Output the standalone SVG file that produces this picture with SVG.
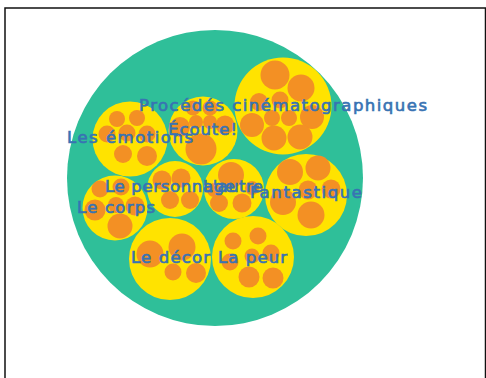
<svg xmlns="http://www.w3.org/2000/svg" width="486" height="378" viewBox="0 0 486 378">
<style>
.root{fill:#2fbf99}
.grp{fill:#ffe300}
.leaf{fill:#f39024}
.lbl{font-family:"DejaVu Sans","Liberation Sans",sans-serif;font-size:16.5px;fill:#3873b3;text-anchor:middle;stroke:#3873b3;stroke-width:0.65}
</style>
<rect x="0" y="0" width="486" height="378" fill="#ffffff"/>
<rect x="5" y="8" width="480.5" height="380" fill="none" stroke="#111" stroke-width="1.5"/>
<g id="connectors"></g>
<g id="root"><circle class="root" cx="215" cy="178" r="148"/></g>

<g id="node-emotions">
<circle class="grp" cx="130" cy="139" r="37.5"/>
<circle class="leaf" cx="117" cy="119" r="8"/>
<circle class="leaf" cx="137" cy="118" r="8"/>
<circle class="leaf" cx="107" cy="134" r="8.5"/>
<circle class="leaf" cx="127" cy="133" r="8.5"/>
<circle class="leaf" cx="147" cy="134" r="8.5"/>
<circle class="leaf" cx="123" cy="154" r="9"/>
<circle class="leaf" cx="147" cy="156" r="10"/>
</g>

<g id="node-ecoute">
<circle class="grp" cx="203" cy="131" r="34.5"/>
<circle class="leaf" cx="193" cy="108" r="7.5"/>
<circle class="leaf" cx="210" cy="108" r="7.5"/>
<circle class="leaf" cx="180" cy="127" r="10"/>
<circle class="leaf" cx="196" cy="122" r="7"/>
<circle class="leaf" cx="210" cy="122" r="7"/>
<circle class="leaf" cx="225" cy="125" r="9.5"/>
<circle class="leaf" cx="201" cy="149" r="15.5"/>
</g>

<g id="node-procedes">
<circle class="grp" cx="283" cy="106" r="48.5"/>
<circle class="leaf" cx="275" cy="75" r="14.5"/>
<circle class="leaf" cx="301" cy="88" r="13.5"/>
<circle class="leaf" cx="259" cy="102" r="9"/>
<circle class="leaf" cx="280" cy="100" r="8.5"/>
<circle class="leaf" cx="252" cy="125" r="12"/>
<circle class="leaf" cx="272" cy="118" r="8"/>
<circle class="leaf" cx="289" cy="118" r="8"/>
<circle class="leaf" cx="312" cy="117" r="12"/>
<circle class="leaf" cx="274" cy="138" r="12.5"/>
<circle class="leaf" cx="300" cy="137" r="12.5"/>
</g>

<g id="node-corps">
<circle class="grp" cx="115" cy="208" r="32.5"/>
<circle class="leaf" cx="100" cy="189" r="8.5"/>
<circle class="leaf" cx="121" cy="187" r="8.5"/>
<circle class="leaf" cx="95" cy="210" r="10.5"/>
<circle class="leaf" cx="116" cy="205" r="8"/>
<circle class="leaf" cx="135" cy="206" r="9.5"/>
<circle class="leaf" cx="120" cy="226" r="12.5"/>
</g>

<g id="node-personnage">
<circle class="grp" cx="175" cy="189" r="28"/>
<circle class="leaf" cx="162" cy="180" r="9.5"/>
<circle class="leaf" cx="181" cy="178" r="9.5"/>
<circle class="leaf" cx="170" cy="200" r="9"/>
<circle class="leaf" cx="190" cy="200" r="9"/>
</g>

<g id="node-autre">
<circle class="grp" cx="234" cy="189" r="30"/>
<circle class="leaf" cx="231" cy="175" r="13"/>
<circle class="leaf" cx="214" cy="190" r="7"/>
<circle class="leaf" cx="252" cy="188" r="7"/>
<circle class="leaf" cx="219" cy="203" r="9"/>
<circle class="leaf" cx="242" cy="203" r="9.5"/>
</g>

<g id="node-fantastique">
<circle class="grp" cx="306" cy="195" r="41"/>
<circle class="leaf" cx="290" cy="172" r="13"/>
<circle class="leaf" cx="318" cy="168" r="12.5"/>
<circle class="leaf" cx="283" cy="202" r="13"/>
<circle class="leaf" cx="308" cy="190" r="9.5"/>
<circle class="leaf" cx="331" cy="189" r="9.5"/>
<circle class="leaf" cx="311" cy="215" r="13.5"/>
</g>

<g id="node-decor">
<circle class="grp" cx="170" cy="259" r="41"/>
<circle class="leaf" cx="150" cy="254" r="13.5"/>
<circle class="leaf" cx="182" cy="247" r="13.5"/>
<circle class="leaf" cx="173" cy="272" r="8.5"/>
<circle class="leaf" cx="196" cy="273" r="10"/>
</g>

<g id="node-peur">
<circle class="grp" cx="253" cy="257" r="41"/>
<circle class="leaf" cx="233" cy="241" r="8.5"/>
<circle class="leaf" cx="258" cy="236" r="8.5"/>
<circle class="leaf" cx="230" cy="262" r="8.5"/>
<circle class="leaf" cx="252" cy="256" r="7.5"/>
<circle class="leaf" cx="271" cy="253" r="8.5"/>
<circle class="leaf" cx="249" cy="277" r="10.5"/>
<circle class="leaf" cx="273" cy="278" r="10.5"/>
</g>

<g id="labels">
<text class="lbl" x="283" y="111" textLength="288" lengthAdjust="spacing">Procédés cinématographiques</text>
<text class="lbl" x="202.5" y="135" textLength="69" lengthAdjust="spacing">Écoute!</text>
<text class="lbl" x="130" y="143" textLength="126" lengthAdjust="spacing">Les émotions</text>
<text class="lbl" x="170" y="192" textLength="130" lengthAdjust="spacing">Le personnage</text>
<text class="lbl" x="233" y="192" textLength="60" lengthAdjust="spacing">L'autre</text>
<text class="lbl" x="306" y="198" textLength="112" lengthAdjust="spacing">Fantastique</text>
<text class="lbl" x="116" y="213" textLength="78" lengthAdjust="spacing">Le corps</text>
<text class="lbl" x="170.5" y="263" textLength="79" lengthAdjust="spacing">Le décor</text>
<text class="lbl" x="252.5" y="263" textLength="69" lengthAdjust="spacing">La peur</text>
</g>
</svg>
